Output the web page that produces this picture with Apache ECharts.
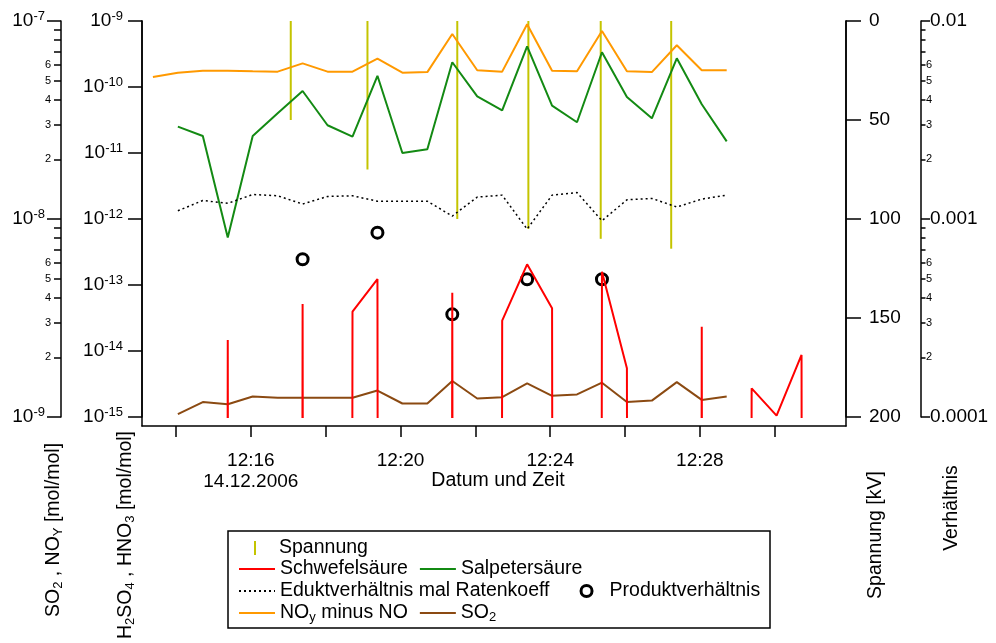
<!DOCTYPE html>
<html>
<head>
<meta charset="utf-8">
<script src="https://cdn.jsdelivr.net/npm/echarts@6/dist/echarts.min.js"></script>
<style>
html, body { margin: 0; padding: 0; background: #fff; }
#chart { width: 996px; height: 643px; }
</style>
</head>
<body>
<div id="chart"></div>
<script>
var FONT = 'Liberation Sans, Arial, Helvetica, sans-serif';

// Messzeitpunkte
var times = ['12:13:23', '12:14:03', '12:14:43', '12:15:23', '12:16:03', '12:16:43', '12:17:23',
    '12:18:03', '12:18:43', '12:19:23', '12:20:03', '12:20:43', '12:21:23', '12:22:03', '12:22:43',
    '12:23:23', '12:24:03', '12:24:43', '12:25:23', '12:26:03', '12:26:43', '12:27:23', '12:28:03',
    '12:28:43', '12:29:23', '12:30:03', '12:30:43', '12:31:23'];

// NOy minus NO [mol/mol]
var noyMinusNo = [5.21e-8, 5.48e-8, 5.61e-8, 5.61e-8, 5.57e-8, 5.55e-8, 6.11e-8, 5.55e-8, 5.55e-8,
    6.45e-8, 5.48e-8, 5.52e-8, 8.6e-8, 5.64e-8, 5.55e-8, 9.62e-8, 5.61e-8, 5.58e-8, 8.9e-8, 5.57e-8,
    5.52e-8, 7.54e-8, 5.64e-8, 5.64e-8, null, null, null, null];
// Salpetersaeure HNO3 [mol/mol]
var hno3 = [null, 2.51e-11, 1.81e-11, 5.25e-13, 1.81e-11, 4.0e-11, 8.69e-11, 2.63e-11, 1.77e-11,
    1.48e-10, 1.0e-11, 1.14e-11, 2.37e-10, 7.22e-11, 4.44e-11, 4.14e-10, 5.21e-11, 2.92e-11, 3.36e-10,
    7.05e-11, 3.36e-11, 2.72e-10, 5.47e-11, 1.50e-11, null, null, null, null];
// Schwefelsaeure H2SO4 [mol/mol], 0 = unter der Achse
var h2so4 = [0, 0, 0, 1.47e-14, 0, 0, 5.15e-14, 0, 3.94e-14, 1.23e-13, 0, 0, 7.64e-14, 0, 2.88e-14,
    2.06e-13, 4.43e-14, 0, 1.59e-13, 5.47e-15, 0, 0, 2.33e-14, 0, 2.72e-15, 1.05e-15, 8.7e-15, 0];
// SO2 [mol/mol]
var so2 = [null, 1.035e-9, 1.19e-9, 1.16e-9, 1.27e-9, 1.25e-9, 1.25e-9, 1.25e-9, 1.25e-9, 1.36e-9,
    1.17e-9, 1.17e-9, 1.52e-9, 1.24e-9, 1.26e-9, 1.48e-9, 1.28e-9, 1.30e-9, 1.49e-9, 1.19e-9, 1.21e-9,
    1.50e-9, 1.22e-9, 1.27e-9, null, null, null, null];
// Eduktverhaeltnis mal Ratenkoeff
var edukt = [null, 1.10e-3, 1.24e-3, 1.20e-3, 1.33e-3, 1.31e-3, 1.19e-3, 1.30e-3, 1.31e-3, 1.23e-3,
    1.23e-3, 1.23e-3, 1.035e-3, 1.29e-3, 1.32e-3, 8.89e-4, 1.32e-3, 1.36e-3, 9.8e-4, 1.25e-3, 1.27e-3,
    1.15e-3, 1.26e-3, 1.32e-3, null, null, null, null];

// Produktverhaeltnis
var produktTimes = ['12:17:23', '12:19:23', '12:21:23', '12:23:23', '12:25:23'];
var produktValues = [6.26e-4, 8.53e-4, 3.30e-4, 4.96e-4, 4.96e-4];

// Spannung [kV]
var spannungTimes = ['12:17:04', '12:19:07', '12:21:31', '12:23:25', '12:25:21', '12:27:14'];
var spannungKV = [50, 75, 100, 105, 110, 115];

// Achsenbeschriftung
var xTickTimes = ['12:14', '12:16', '12:18', '12:20', '12:22', '12:24', '12:26', '12:28', '12:30'];
var xLabelTimes = ['12:16', '12:20', '12:24', '12:28'];
var dateLabel = '14.12.2006';
var minorMantissas = [2, 3, 4, 5, 6, 7, 8, 9];
var minorLabelMantissas = [2, 3, 4, 5, 6];

var BELOW_AXIS = 1e-300;

function toMinutes (s) {
    var p = s.split(':');
    return Number(p[0]) * 60 + Number(p[1]) + (p[2] ? Number(p[2]) / 60 : 0);
}
function pairs (tList, vals, floor) {
    return tList.map(function (t, i) {
        var v = vals[i];
        if (v === null) return [toMinutes(t), '-'];
        if (floor && v <= 0) v = floor;
        return [toMinutes(t), v];
    });
}
function minorPositions (lo, hi, mantissas) {
    var out = [];
    for (var n = lo; n < hi; n++) {
        mantissas.forEach(function (k) { out.push(n + Math.log10(k)); });
    }
    return out;
}

var xMin = toMinutes('12:14') - 34 / 37.42;
var xMax = toMinutes('12:14') + 670 / 37.42;

var lineStyleAxis = { color: '#000', width: 1.5 };
var powRich = {
    b: { fontSize: 19, fontFamily: FONT, color: '#000', lineHeight: 22 },
    sup: { fontSize: 13, fontFamily: FONT, color: '#000', lineHeight: 10, verticalAlign: 'top' }
};
var subRich = {
    n: { fontSize: 19.5, fontFamily: FONT, color: '#000', lineHeight: 22 },
    s: { fontSize: 13, fontFamily: FONT, color: '#000', lineHeight: 14, verticalAlign: 'bottom' }
};
function powLabel (v) {
    return '{b|10}{sup|' + Math.round(Math.log10(v)) + '}';
}
function mantissaLabel (v) {
    return String(Math.round(Math.pow(10, v - Math.floor(v + 1e-9))));
}

var legendNames = {
    'NOy minus NO': '{n|NO}{s|y}{n| minus NO}',
    'SO2': '{n|SO}{s|2}'
};
function legendFormatter (name) {
    return legendNames[name] || '{n|' + name + '}';
}
// Linien-Eintraege ohne Punktsymbol
function lineItem (name) {
    return { name: name, itemStyle: { opacity: 0 } };
}
function legendRow (data, top, gap, extra) {
    var l = {
        data: data,
        left: 238,
        top: top,
        orient: 'horizontal',
        padding: 0,
        itemWidth: 36,
        itemHeight: 14,
        itemGap: gap,
        selectedMode: false,
        formatter: legendFormatter,
        textStyle: { fontSize: 19.5, fontFamily: FONT, color: '#000', rich: subRich }
    };
    return Object.assign(l, extra || {});
}

var chart = echarts.init(document.getElementById('chart'));
chart.setOption({
    animation: false,
    textStyle: { fontFamily: FONT },
    grid: [
        { left: 142, right: 150, top: 21, bottom: 226, outerBoundsMode: 'none' },
        { left: 142, right: 150, top: 21, bottom: 217, outerBoundsMode: 'none' }
    ],
    xAxis: [
        { type: 'value', gridIndex: 0, min: xMin, max: xMax, show: false },
        {
            type: 'value', gridIndex: 1, min: xMin, max: xMax, position: 'bottom',
            axisLine: { onZero: false, lineStyle: lineStyleAxis },
            axisTick: { customValues: xTickTimes.map(toMinutes), length: 11, lineStyle: lineStyleAxis },
            axisLabel: {
                customValues: xLabelTimes.map(toMinutes),
                margin: 24, lineHeight: 21, fontSize: 19, color: '#000',
                formatter: function (v) {
                    var h = Math.floor(v / 60);
                    var m = Math.round(v - h * 60);
                    var s = h + ':' + (m < 10 ? '0' : '') + m;
                    return v === toMinutes('12:16') ? s + '\n' + dateLabel : s;
                }
            },
            splitLine: { show: false },
            name: 'Datum und Zeit',
            nameLocation: 'middle',
            nameGap: 45,
            nameMoveOverlap: false,
            nameTextStyle: { fontSize: 19.5, color: '#000', padding: [0, 0, 0, 8] }
        }
    ],
    yAxis: [
        {   // H2SO4, HNO3
            type: 'log', gridIndex: 0, position: 'left', offset: 0, min: 1e-15, max: 1e-9,
            axisLine: { show: true, onZero: false, lineStyle: lineStyleAxis },
            axisTick: { show: true, length: 14, lineStyle: lineStyleAxis },
            axisLabel: { margin: 19, formatter: powLabel, rich: powRich },
            splitLine: { show: false }
        },
        {   // SO2, NOy
            type: 'log', gridIndex: 0, position: 'left', offset: 81, min: 1e-9, max: 1e-7,
            axisLine: { show: true, onZero: false, lineStyle: lineStyleAxis },
            axisTick: { show: true, length: 14, lineStyle: lineStyleAxis },
            axisLabel: { margin: 16, formatter: powLabel, rich: powRich },
            splitLine: { show: false }
        },
        {   // Spannung
            type: 'value', gridIndex: 0, position: 'right', offset: 0, min: 0, max: 200, interval: 50,
            inverse: true,
            axisLine: { show: true, onZero: false, lineStyle: lineStyleAxis },
            axisTick: { show: true, length: 15, lineStyle: lineStyleAxis },
            axisLabel: { margin: 23, fontSize: 19, color: '#000' },
            splitLine: { show: false }
        },
        {   // Verhaeltnis
            type: 'log', gridIndex: 0, position: 'right', offset: 75, min: 1e-4, max: 1e-2,
            axisLine: { show: true, onZero: false, lineStyle: lineStyleAxis },
            axisTick: { show: true, length: 9, lineStyle: lineStyleAxis },
            axisLabel: {
                margin: 9, fontSize: 19, color: '#000',
                formatter: function (v) { return v.toFixed(-Math.round(Math.log10(v))); }
            },
            splitLine: { show: false }
        },
        {   // Nebenstriche SO2, NOy
            type: 'value', gridIndex: 0, position: 'left', offset: 81, min: -9, max: -7,
            axisLine: { show: false },
            axisTick: { show: true, length: 7, customValues: minorPositions(-9, -7, minorMantissas), lineStyle: lineStyleAxis },
            axisLabel: { customValues: minorPositions(-9, -7, minorLabelMantissas), formatter: mantissaLabel, fontSize: 11, margin: 10, color: '#000' },
            splitLine: { show: false }
        },
        {   // Nebenstriche Verhaeltnis
            type: 'value', gridIndex: 0, position: 'right', offset: 75, min: -4, max: -2,
            axisLine: { show: false },
            axisTick: { show: true, length: 4.5, customValues: minorPositions(-4, -2, minorMantissas), lineStyle: lineStyleAxis },
            axisLabel: { customValues: minorPositions(-4, -2, minorLabelMantissas), formatter: mantissaLabel, fontSize: 11, margin: 5, color: '#000' },
            splitLine: { show: false }
        },
        {   // Rahmen links
            type: 'value', gridIndex: 1, position: 'left', min: 0, max: 1,
            axisLine: { show: true, onZero: false, lineStyle: lineStyleAxis },
            axisTick: { show: false }, axisLabel: { show: false }, splitLine: { show: false }
        },
        {   // Rahmen rechts
            type: 'value', gridIndex: 1, position: 'right', min: 0, max: 1,
            axisLine: { show: true, onZero: false, lineStyle: lineStyleAxis },
            axisTick: { show: false }, axisLabel: { show: false }, splitLine: { show: false }
        }
    ],
    legend: [
        legendRow([{ name: 'Spannung', icon: 'rect' }], 538, 10, {
            left: 254, itemWidth: 2, itemHeight: 14,
            textStyle: { fontSize: 19.5, fontFamily: FONT, color: '#000', rich: subRich, padding: [0, 0, 0, 18] }
        }),
        legendRow([lineItem('Schwefelsäure'), lineItem('Salpetersäure')], 559, 11),
        legendRow([lineItem('Eduktverhältnis mal Ratenkoeff'), { name: 'Produktverhältnis', itemStyle: { borderWidth: 3 } }], 581, 30, { itemHeight: 11 }),
        legendRow([lineItem('NOy minus NO'), lineItem('SO2')], 603, 11)
    ],
    graphic: [
        { type: 'rect', shape: { x: 228, y: 531, width: 542, height: 97 }, style: { fill: 'none', stroke: '#000', lineWidth: 1.5 } },
        { type: 'text', x: 54, y: 530, rotation: Math.PI / 2,
          style: { text: '{n|SO}{s|2}{n| , NO}{s|Y}{n| [mol/mol]}', rich: subRich, align: 'center', verticalAlign: 'middle' } },
        { type: 'text', x: 126, y: 535, rotation: Math.PI / 2,
          style: { text: '{n|H}{s|2}{n|SO}{s|4}{n| , HNO}{s|3}{n| [mol/mol]}', rich: subRich, align: 'center', verticalAlign: 'middle' } },
        { type: 'text', x: 876, y: 535, rotation: Math.PI / 2,
          style: { text: '{n|Spannung [kV]}', rich: subRich, align: 'center', verticalAlign: 'middle' } },
        { type: 'text', x: 952, y: 508, rotation: Math.PI / 2,
          style: { text: '{n|Verhältnis}', rich: subRich, align: 'center', verticalAlign: 'middle' } }
    ],
    series: [
        {
            name: 'NOy minus NO', type: 'line', xAxisIndex: 0, yAxisIndex: 1,
            data: pairs(times, noyMinusNo), symbol: 'none',
            lineStyle: { color: '#ff9900', width: 2 }, itemStyle: { color: '#ff9900' }
        },
        {
            name: 'Salpetersäure', type: 'line', xAxisIndex: 0, yAxisIndex: 0,
            data: pairs(times, hno3), symbol: 'none',
            lineStyle: { color: '#138a13', width: 2 }, itemStyle: { color: '#138a13' }
        },
        {
            name: 'Eduktverhältnis mal Ratenkoeff', type: 'line', xAxisIndex: 0, yAxisIndex: 3,
            data: pairs(times, edukt), symbol: 'none',
            lineStyle: { color: '#000', width: 1.5, type: [2, 3] }, itemStyle: { color: '#000' }
        },
        {
            name: 'SO2', type: 'line', xAxisIndex: 0, yAxisIndex: 1,
            data: pairs(times, so2), symbol: 'none',
            lineStyle: { color: '#8b4a12', width: 2 }, itemStyle: { color: '#8b4a12' }
        },
        {
            name: 'Schwefelsäure', type: 'line', xAxisIndex: 0, yAxisIndex: 0,
            data: pairs(times, h2so4, BELOW_AXIS), symbol: 'none',
            lineStyle: { color: '#ff0000', width: 2 }, itemStyle: { color: '#ff0000' }
        },
        {
            name: 'Spannung', type: 'bar', xAxisIndex: 0, yAxisIndex: 2,
            data: pairs(spannungTimes, spannungKV), barWidth: 2,
            itemStyle: { color: '#c4c400' }
        },
        {
            name: 'Produktverhältnis', type: 'scatter', xAxisIndex: 0, yAxisIndex: 3,
            data: pairs(produktTimes, produktValues), symbol: 'circle', symbolSize: 11,
            itemStyle: { color: 'rgba(0,0,0,0)', borderColor: '#000', borderWidth: 3, opacity: 1 }
        }
    ]
});
</script>
</body>
</html>
